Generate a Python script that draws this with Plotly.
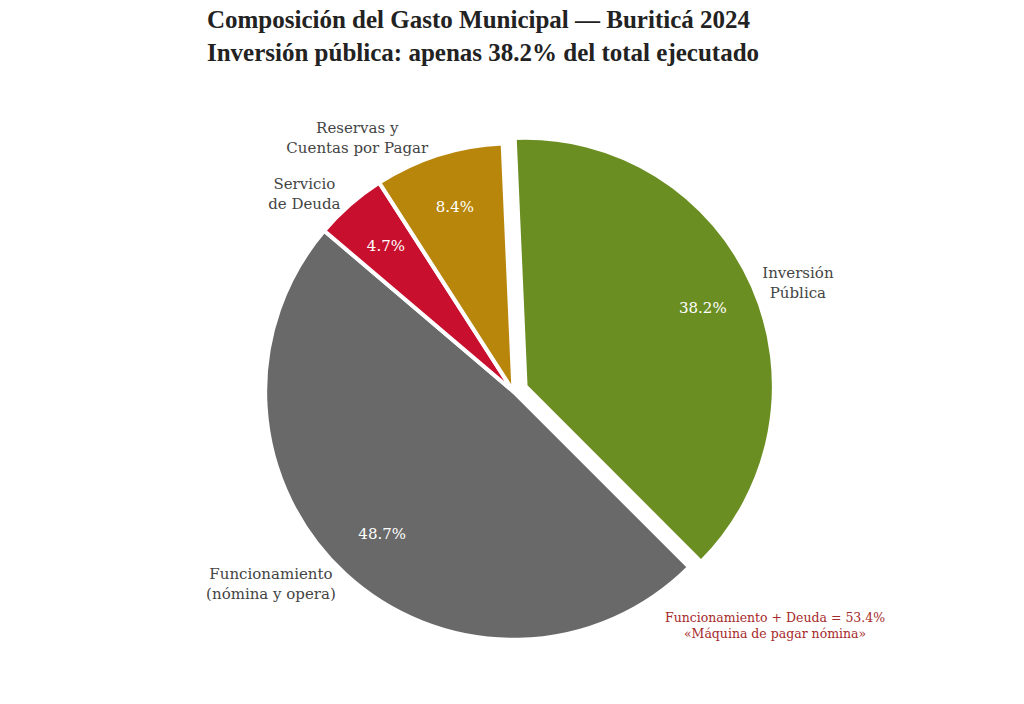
import plotly.graph_objects as go

labels = ["Inversión<br>Pública", "Funcionamiento<br>(nómina y opera)", "Servicio<br>de Deuda", "Reservas y<br>Cuentas por Pagar"]
values = [38.2, 48.7, 4.7, 8.4]
colors = ["#6B8E23", "#696969", "#C8102E", "#B8860B"]
pulls = [0.053, 0, 0, 0]

serif = "DejaVu Serif"
rot = -2.5

fig = go.Figure()

# porciones con etiquetas externas
fig.add_trace(go.Pie(
    labels=labels, values=values, sort=False, direction="clockwise", rotation=rot,
    pull=pulls, textposition="outside", texttemplate="%{label}",
    marker=dict(colors=colors, line=dict(color="white", width=4)),
    outsidetextfont=dict(family=serif, size=15, color="#444444"),
    showlegend=False,
))

# anillo transparente, un poco más chico, para ubicar los porcentajes
fig.add_trace(go.Pie(
    labels=labels, values=values, sort=False, direction="clockwise", rotation=rot,
    pull=[0.0592, 0, 0, 0], hole=0.743, textposition="inside", texttemplate="%{percent:.1%}",
    insidetextorientation="horizontal",
    domain=dict(x=[0.0499, 0.9501], y=[0.0499, 0.9501]),
    marker=dict(colors=["rgba(0,0,0,0)"] * 4, line=dict(width=0)),
    insidetextfont=dict(family=serif, size=15, color="white"),
    showlegend=False, hoverinfo="skip",
))

fig.update_layout(
    width=1024, height=704,
    paper_bgcolor="white", plot_bgcolor="white",
    margin=dict(l=76, r=88, t=122, b=59),
    title=dict(
        text="<b>Composición del Gasto Municipal — Buriticá 2024<br>Inversión pública: apenas 38.2% del total ejecutado</b>",
        x=0.1943, xanchor="left", xref="container", y=0.971, yanchor="middle",
        font=dict(family="Liberation Serif", size=25, color="#222222"),
    ),
    annotations=[dict(
        text="Funcionamiento + Deuda = 53.4%<br>«Máquina de pagar nómina»",
        x=0.883, y=0.052, xref="paper", yref="paper", showarrow=False,
        xanchor="center", yanchor="middle",
        font=dict(family=serif, size=12.5, color="#A52A2A"),
    )],
)

fig.write_html("out.html")
